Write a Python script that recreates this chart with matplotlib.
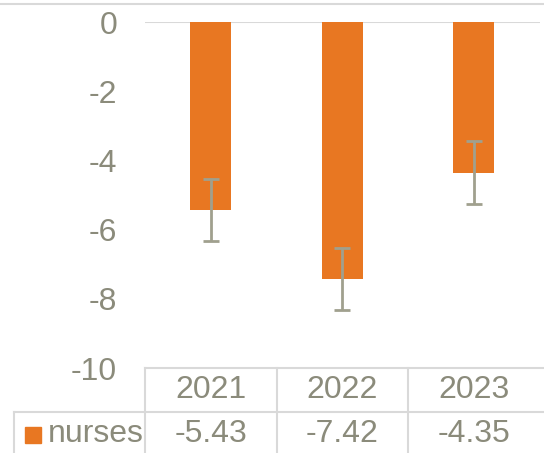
import numpy as np
import matplotlib
matplotlib.use('Agg')
import matplotlib.pyplot as plt
from matplotlib.lines import Line2D
from matplotlib.patches import Rectangle

plt.rcParams['font.family'] = ['Liberation Sans', 'DejaVu Sans']
plt.rcParams['axes.unicode_minus'] = False

years = ['2021', '2022', '2023']
nurses = [-5.43, -7.42, -4.35]
errors = [0.9, 0.9, 0.9]
series_name = 'nurses'

bar_color = '#E87722'
text_color = '#8B8B7B'
err_color = '#A0A08E'
line_color = '#D9D9D9'

W, H = 544, 453
fig = plt.figure(figsize=(W / 100, H / 100), dpi=100)

# plot area in pixels
left, right = 145, 539.5
top, bottom = 22, 368
ax = fig.add_axes([left / W, 1 - bottom / H, (right - left) / W, (bottom - top) / H])

x = np.arange(len(years))
ax.bar(x, nurses, width=0.31, color=bar_color, zorder=2)
ax.errorbar(x, nurses, yerr=errors, fmt='none', ecolor=err_color,
            elinewidth=2, capsize=6, capthick=2, zorder=3)

ax.set_xlim(-0.5, len(years) - 0.5)
ax.set_ylim(-10, 0)
ax.set_yticks(range(-10, 1, 2))
ax.tick_params(axis='y', length=0, pad=20, labelsize=23, labelcolor=text_color)
ax.set_xticks([])
for s in ax.spines.values():
    s.set_visible(False)
ax.axhline(0, color=line_color, lw=1.5, zorder=1)

# chart border at top
fig.add_artist(Line2D([0, 1], [1 - 4 / H, 1 - 4 / H], color=line_color, lw=1.5))

# data table under the plot
col_w = (right - left) / len(years)
row1_top, row2_top = 368, 412

def hline(y, x0, x1):
    fig.add_artist(Line2D([x0 / W, x1 / W], [1 - y / H, 1 - y / H], color=line_color, lw=1.5))

def vline(xp, y0, y1):
    fig.add_artist(Line2D([xp / W, xp / W], [1 - y0 / H, 1 - y1 / H], color=line_color, lw=1.5))

hline(row1_top, left, W)
hline(row2_top, 14, W)
vline(14, row2_top, H)
for i in range(len(years)):
    vline(left + i * col_w, row1_top, H)

for i, (yr, v) in enumerate(zip(years, nurses)):
    cx = (left + (i + 0.5) * col_w) / W
    fig.text(cx, 1 - 390 / H, yr, ha='center', va='center', fontsize=23, color=text_color)
    fig.text(cx, 1 - 434 / H, f'{v:.2f}', ha='center', va='center', fontsize=23, color=text_color)

fig.add_artist(Rectangle((25 / W, 1 - 443 / H), 16 / W, 16 / H, color=bar_color,
                         transform=fig.transFigure))
fig.text(48 / W, 1 - 434 / H, series_name, ha='left', va='center', fontsize=23, color=text_color)

fig.savefig('out.png', dpi=100)
